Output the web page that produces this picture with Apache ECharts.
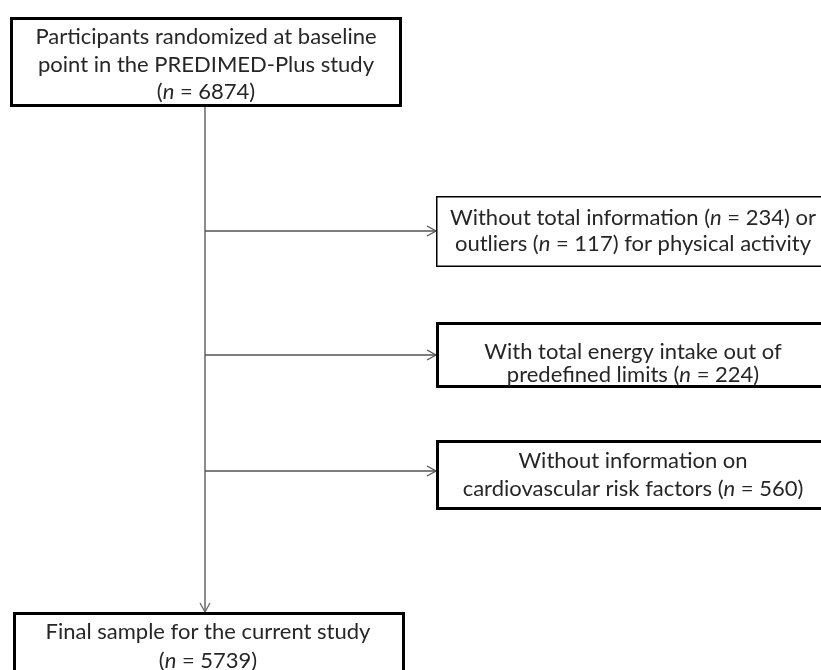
<!DOCTYPE html>
<html>
<head>
<meta charset="utf-8">
<script src="https://cdn.jsdelivr.net/npm/echarts@6/dist/echarts.min.js"></script>
<style>
html,body{margin:0;padding:0;background:#fff;}
#chart{width:821px;height:670px;}
</style>
</head>
<body>
<div id="chart"></div>
<script>
// ---- data ----
var startLabel = ['Participants randomized at baseline', 'point in the PREDIMED-Plus study'];
var startN = 6874;
var exclusionLines = [
  ['Without total information ({i|n} = 234) or', 'outliers ({i|n} = 117) for physical activity'],
  ['With total energy intake out of', 'predefined limits ({i|n} = 224)'],
  ['Without information on', 'cardiovascular risk factors ({i|n} = 560)']
];
var exclusionN = [[234, 117], [224], [560]];
var finalLabel = ['Final sample for the current study'];
var finalN = 5739;

// ---- layout ----
var FONT = 'Lato';
var FS = 22;
var TXT = '#262626';
var rich = { i: { fontStyle: 'italic', fontFamily: FONT, fontSize: FS, fill: TXT } };

var g = [];
function box(x1, y1, x2, y2, lw) {
  g.push({ type: 'rect', shape: { x: x1 + lw / 2, y: y1 + lw / 2, width: x2 - x1 - lw, height: y2 - y1 - lw },
    style: { fill: '#fff', stroke: '#000', lineWidth: lw }, z: 2 });
}
function text(str, cx, cy) {
  g.push({ type: 'text', x: cx, y: cy, z: 3,
    style: { text: str, fontFamily: FONT, fontSize: FS, fill: TXT, align: 'center', verticalAlign: 'middle', rich: rich } });
}
function arrowH(x1, x2, y) {
  g.push({ type: 'line', shape: { x1: x1, y1: y, x2: x2 - 1, y2: y }, style: { stroke: '#555', lineWidth: 1.3 }, z: 1 });
  g.push({ type: 'polyline', shape: { points: [[x2 - 10, y - 5], [x2 - 1, y], [x2 - 10, y + 5]] }, style: { stroke: '#555', lineWidth: 1.3, fill: null }, z: 1 });
}
function arrowV(x, y1, y2) {
  g.push({ type: 'line', shape: { x1: x, y1: y1, x2: x, y2: y2 - 1 }, style: { stroke: '#666', lineWidth: 1.5 }, z: 1 });
  g.push({ type: 'polyline', shape: { points: [[x - 5, y2 - 10], [x, y2 - 1], [x + 5, y2 - 10]] }, style: { stroke: '#666', lineWidth: 1.3, fill: null }, z: 1 });
}

// top box
box(10, 17, 402, 107, 3);
text(startLabel[0], 206, 37);
text(startLabel[1], 206, 65);
text('({i|n} = ' + startN + ')', 206, 92);

// main vertical arrow
arrowV(205, 107, 613);

// exclusion boxes
var exBoxes = [[196, 267, 1.5], [322, 388, 3], [440, 510, 3]];
var exTextY = [[218, 244], [352, 375], [461, 489]];
var arrowY = [231, 355, 471];
for (var k = 0; k < exclusionLines.length; k++) {
  box(436, exBoxes[k][0], 832, exBoxes[k][1], exBoxes[k][2]);
  for (var j = 0; j < exclusionLines[k].length; j++) text(exclusionLines[k][j], 633, exTextY[k][j]);
  arrowH(205, 437, arrowY[k]);
}

// final box
box(13, 612, 405, 700, 3);
text(finalLabel[0], 208, 632);
text('({i|n} = ' + finalN + ')', 208, 661);

var chart = echarts.init(document.getElementById('chart'));
chart.setOption({ backgroundColor: '#fff', graphic: { elements: g } });
</script>
</body>
</html>
